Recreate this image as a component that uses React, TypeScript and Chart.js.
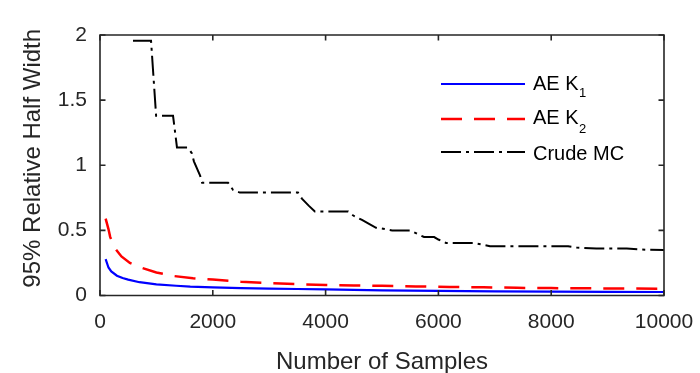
import React, { useEffect, useRef } from "react";
import { Chart, registerables } from "chart.js";

Chart.register(...registerables);

// ---- data ----
const xTickStep = 2000;
const yTickStep = 0.5;
const xMin = 0;
const xMax = 10000;
const yMin = 0;
const yMax = 2;

const k1Samples = [100, 150, 200, 300, 400, 500, 700, 1000, 1350, 1600, 2000, 2500, 3000, 3500, 4000, 5000, 6000, 7000, 8000, 9000, 10000];
const k1Values = [0.28, 0.215, 0.185, 0.152, 0.134, 0.122, 0.102, 0.086, 0.075, 0.068, 0.062, 0.057, 0.053, 0.05, 0.047, 0.039, 0.035, 0.031, 0.029, 0.028, 0.027];

const k2Samples = [100, 150, 180, 270, 380, 530, 740, 1000, 1300, 1650, 2000, 2500, 3000, 3500, 4000, 4500, 5000, 5600, 6200, 6800, 7400, 8000, 8600, 9200, 10000];
const k2Values = [0.59, 0.51, 0.45, 0.36, 0.3, 0.25, 0.212, 0.177, 0.15, 0.132, 0.122, 0.106, 0.095, 0.087, 0.081, 0.077, 0.074, 0.07, 0.066, 0.063, 0.059, 0.057, 0.055, 0.054, 0.052];

const mcSamples = [585, 905, 995, 1295, 1365, 1545, 1600, 1630, 1665, 1775, 1810, 2270, 2360, 2480, 3510, 3580, 3700, 3810, 4400, 4490, 4645, 4770, 4895, 5020, 5180, 5500, 5620, 5745, 5925, 6000, 6135, 6610, 6750, 6915, 8300, 8450, 8800, 9340, 9700, 10000];
const mcValues = [1.955, 1.955, 1.38, 1.38, 1.137, 1.137, 1.11, 1.09, 1.03, 0.92, 0.866, 0.866, 0.81, 0.79, 0.79, 0.744, 0.69, 0.645, 0.645, 0.614, 0.58, 0.55, 0.52, 0.513, 0.5, 0.5, 0.475, 0.449, 0.449, 0.43, 0.403, 0.403, 0.393, 0.378, 0.378, 0.368, 0.36, 0.36, 0.351, 0.35];

const seriesNames = ["AE K", "AE K", "Crude MC"];
const seriesSubs = ["1", "2", ""];

const xTitle = "Number of Samples";
const yTitle = "95% Relative Half Width";

const FONT = '"Liberation Sans", Arial, Helvetica, sans-serif';
const AXIS = "#262626";

const toPoints = (xs: number[], ys: number[]) => xs.map((x, i) => ({ x, y: ys[i] }));

export default function App() {
  const ref = useRef<HTMLCanvasElement>(null);

  useEffect(() => {
    document.body.style.margin = "0";
    const canvas = ref.current;
    if (!canvas) return;

    const framePlugin = {
      id: "frameBox",
      afterDatasetsDraw(chart: any) {
        const { ctx, chartArea } = chart;
        const { left, right, top, bottom } = chartArea;
        const xs = chart.scales.x;
        const ys = chart.scales.y;
        const tl = 5.5;
        ctx.save();
        ctx.strokeStyle = AXIS;
        ctx.lineWidth = 1.6;
        ctx.setLineDash([]);
        ctx.beginPath();
        ctx.rect(left, top, right - left, bottom - top);
        ctx.stroke();
        ctx.beginPath();
        xs.ticks.forEach((t: any) => {
          const px = xs.getPixelForValue(t.value);
          ctx.moveTo(px, bottom);
          ctx.lineTo(px, bottom - tl);
          ctx.moveTo(px, top);
          ctx.lineTo(px, top + tl);
        });
        ys.ticks.forEach((t: any) => {
          const py = ys.getPixelForValue(t.value);
          ctx.moveTo(left, py);
          ctx.lineTo(left + tl, py);
          ctx.moveTo(right, py);
          ctx.lineTo(right - tl, py);
        });
        ctx.stroke();

        // y-axis title (rotated), centred slightly above the plot centre as in the reference
        ctx.fillStyle = AXIS;
        ctx.font = `24px ${FONT}`;
        ctx.textAlign = "center";
        ctx.textBaseline = "middle";
        ctx.translate(33.5, (top + bottom) / 2 - 7);
        ctx.rotate(-Math.PI / 2);
        ctx.fillText(yTitle, 0, 0);
        ctx.restore();
      },
    };

    const legendPlugin = {
      id: "insideLegend",
      afterDraw(chart: any) {
        const { ctx } = chart;
        const rows = [84, 119, 152];
        const baselines = [89.5, 123.5, 160];
        const subDrop = [7, 9, 0];
        const x0 = 441;
        const x1 = 525;
        const tx = 533;
        ctx.save();
        chart.data.datasets.forEach((ds: any, i: number) => {
          ctx.beginPath();
          ctx.strokeStyle = ds.borderColor;
          ctx.lineWidth = ds.borderWidth;
          ctx.setLineDash(ds.borderDash || []);
          ctx.lineDashOffset = 0;
          ctx.moveTo(x0, rows[i]);
          ctx.lineTo(x1, rows[i]);
          ctx.stroke();
          ctx.setLineDash([]);
          ctx.fillStyle = "#000000";
          ctx.textBaseline = "alphabetic";
          ctx.textAlign = "left";
          ctx.font = `20px ${FONT}`;
          ctx.fillText(seriesNames[i], tx, baselines[i]);
          if (seriesSubs[i]) {
            const w = ctx.measureText(seriesNames[i]).width;
            ctx.font = `13px ${FONT}`;
            ctx.fillText(seriesSubs[i], tx + w + 0.5, baselines[i] + subDrop[i]);
          }
        });
        ctx.restore();
      },
    };

    const chart = new Chart(canvas, {
      type: "line",
      data: {
        datasets: [
          {
            label: "AE K1",
            data: toPoints(k1Samples, k1Values),
            borderColor: "#0000FF",
            backgroundColor: "#0000FF",
            borderWidth: 2.2,
            pointRadius: 0,
            tension: 0,
            fill: false,
          },
          {
            label: "AE K2",
            data: toPoints(k2Samples, k2Values),
            borderColor: "#FF0000",
            backgroundColor: "#FF0000",
            borderWidth: 2.5,
            borderDash: [21, 12],
            pointRadius: 0,
            tension: 0,
            fill: false,
          },
          {
            label: "Crude MC",
            data: toPoints(mcSamples, mcValues),
            borderColor: "#000000",
            backgroundColor: "#000000",
            borderWidth: 2,
            borderDash: [20, 5, 3, 5],
            pointRadius: 0,
            tension: 0,
            fill: false,
          },
        ],
      },
      options: {
        animation: false,
        responsive: false,
        devicePixelRatio: 1,
        layout: { padding: { left: 0, right: 36, top: 35, bottom: 0 } },
        plugins: {
          legend: { display: false },
          tooltip: { enabled: false },
        },
        scales: {
          x: {
            type: "linear",
            min: xMin,
            max: xMax,
            afterFit: (s: any) => {
              s.height = 77.5;
              s.paddingLeft = 0;
              s.paddingRight = 0;
            },
            grid: { display: false, drawTicks: false },
            border: { display: false },
            ticks: {
              stepSize: xTickStep,
              autoSkip: false,
              maxRotation: 0,
              padding: 14,
              color: AXIS,
              font: { family: FONT, size: 21 },
              callback: (v: any) => String(v),
            },
            title: {
              display: true,
              text: xTitle,
              color: AXIS,
              font: { family: FONT, size: 24 },
              padding: { top: 0, bottom: -4 },
            },
          },
          y: {
            type: "linear",
            min: yMin,
            max: yMax,
            afterFit: (s: any) => {
              s.width = 100;
              s.paddingTop = 0;
              s.paddingBottom = 0;
            },
            grid: { display: false, drawTicks: false },
            border: { display: false },
            ticks: {
              stepSize: yTickStep,
              autoSkip: false,
              padding: 13,
              color: AXIS,
              font: { family: FONT, size: 21 },
              callback: (v: any) => String(v),
            },
            title: { display: false },
          },
        },
      },
      plugins: [framePlugin, legendPlugin],
    } as any);

    return () => chart.destroy();
  }, []);

  return (
    <div style={{ position: "absolute", left: 0, top: 0, width: 700, height: 373 }}>
      <canvas ref={ref} width={700} height={373} style={{ display: "block" }} />
    </div>
  );
}
